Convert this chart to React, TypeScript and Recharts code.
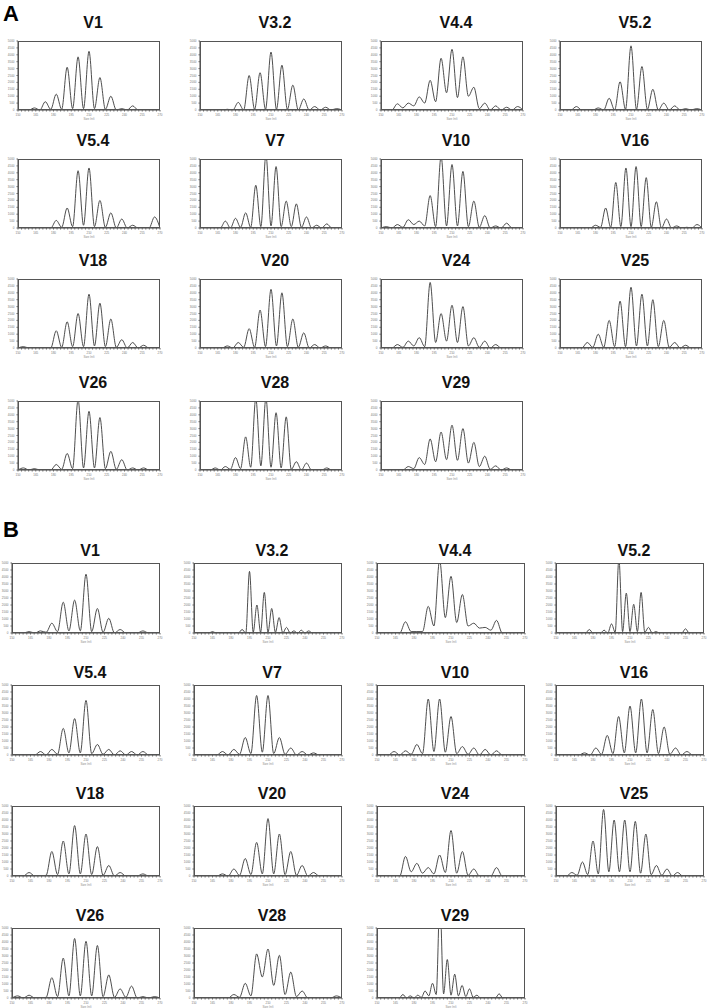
import React from "react";
import { LineChart, Line, XAxis, YAxis } from "recharts";

// Each trace is read off the figure as: trough, peak, trough, peak, ... trough
// (heights in % of the panel's full scale)
const A_V1 = [0, 0, 0, 3, 0, 12, 1, 23, 1, 62, 2, 77, 2, 85, 2, 47, 1, 20, 0, 2, 0, 6, 0, 0, 0, 0, 0];
const A_V3_2 = [0, 0, 0, 0, 0, 1, 0, 11, 0, 50, 1, 54, 1, 84, 1, 65, 1, 36, 0, 16, 0, 5, 0, 4, 0, 2, 0];
const A_V4_4 = [0, 0, 0, 9, 3, 10, 6, 19, 10, 43, 12, 75, 25, 88, 18, 77, 20, 33, 2, 10, 0, 6, 0, 4, 0, 5, 0];
const A_V5_2 = [0, 0, 0, 5, 0, 0, 0, 3, 0, 17, 0, 41, 1, 93, 1, 63, 1, 30, 0, 10, 0, 6, 0, 2, 0, 2, 0];
const A_V5_4 = [0, 0, 0, 0, 0, 0, 0, 11, 1, 29, 2, 83, 4, 87, 2, 40, 1, 22, 0, 13, 0, 4, 0, 0, 0, 16, 0];
const A_V7 = [0, 0, 0, 0, 0, 10, 0, 14, 1, 22, 1, 62, 2, 106, 3, 89, 2, 39, 2, 35, 1, 16, 0, 4, 0, 6, 0, 0, 0];
const A_V10 = [0, 2, 0, 5, 1, 12, 5, 10, 3, 47, 2, 104, 3, 92, 3, 82, 2, 39, 1, 18, 0, 3, 0, 7, 0, 0, 0];
const A_V16 = [0, 0, 0, 0, 0, 0, 0, 4, 1, 29, 1, 66, 2, 87, 2, 89, 2, 73, 1, 38, 0, 13, 0, 3, 0, 1, 0, 5, 0];
const A_V18 = [0, 2, 0, 0, 0, 0, 0, 25, 1, 38, 2, 50, 2, 78, 3, 65, 2, 42, 1, 12, 0, 8, 0, 4, 0, 0, 0];
const A_V20 = [0, 0, 0, 0, 0, 3, 0, 8, 1, 28, 1, 55, 2, 85, 3, 80, 2, 42, 1, 22, 0, 5, 0, 3, 0, 0, 0];
const A_V24 = [0, 0, 0, 5, 1, 10, 3, 15, 2, 95, 8, 50, 10, 62, 8, 60, 3, 15, 1, 10, 0, 5, 0, 0, 0, 0, 0];
const A_V25 = [0, 0, 0, 0, 0, 8, 1, 20, 1, 40, 2, 68, 2, 88, 3, 78, 3, 70, 2, 40, 1, 8, 0, 4, 0, 0, 0];
const A_V26 = [0, 3, 0, 2, 0, 0, 0, 8, 1, 24, 2, 102, 3, 85, 3, 76, 2, 27, 1, 15, 0, 3, 0, 3, 0, 0, 0];
const A_V28 = [0, 0, 0, 3, 0, 5, 1, 18, 2, 48, 4, 104, 6, 104, 4, 83, 3, 77, 1, 12, 0, 10, 0, 0, 0, 3, 0, 0, 0];
const A_V29 = [0, 0, 0, 0, 0, 5, 2, 18, 8, 45, 12, 55, 15, 65, 14, 60, 10, 40, 5, 20, 1, 6, 0, 3, 0, 0, 0];

const B_V1 = [0, 0, 0, 2, 0, 3, 1, 14, 2, 44, 3, 47, 3, 84, 2, 35, 1, 21, 0, 5, 0, 0, 0, 3, 0, 0, 0];
const B_V3_2 = [0, 0, 0, 0, 0, 2, 0, 0, 0, 0, 0, 0, 0, 5, 0, 88, 1, 40, 1, 58, 1, 35, 1, 22, 0, 8, 0, 3, 0, 4, 0, 3, 0, 0, 0, 0, 0, 0, 0, 0, 0];
const B_V4_4 = [0, 0, 0, 0, 0, 16, 2, 2, 2, 38, 10, 104, 22, 81, 15, 55, 10, 14, 7, 8, 4, 18, 0, 0, 0, 0, 0];
const B_V5_2 = [0, 0, 0, 0, 0, 0, 0, 0, 0, 5, 0, 0, 0, 4, 0, 13, 1, 106, 2, 57, 2, 41, 2, 58, 1, 8, 0, 2, 0, 0, 0, 0, 0, 0, 0, 6, 0, 0, 0, 0, 0];
const B_V5_4 = [0, 0, 0, 0, 0, 5, 0, 8, 1, 38, 3, 52, 3, 78, 2, 15, 1, 8, 0, 6, 0, 5, 0, 5, 0, 0, 0];
const B_V7 = [0, 0, 0, 0, 0, 5, 0, 8, 1, 25, 2, 85, 4, 85, 2, 25, 1, 10, 0, 5, 0, 3, 0, 0, 0, 0, 0];
const B_V10 = [0, 0, 0, 5, 0, 6, 1, 15, 2, 80, 5, 80, 4, 55, 2, 12, 1, 10, 0, 8, 0, 6, 0, 0, 0, 0, 0];
const B_V16 = [0, 0, 0, 0, 0, 3, 0, 10, 1, 28, 2, 55, 3, 70, 3, 80, 3, 65, 2, 40, 1, 10, 0, 5, 0, 0, 0];
const B_V18 = [0, 0, 0, 5, 0, 0, 1, 35, 2, 50, 3, 72, 3, 60, 2, 42, 1, 15, 0, 5, 0, 0, 0, 3, 0, 0, 0];
const B_V20 = [0, 0, 0, 0, 0, 3, 0, 10, 1, 25, 2, 48, 3, 82, 3, 60, 2, 35, 1, 15, 0, 5, 0, 0, 0, 0, 0];
const B_V24 = [0, 0, 0, 0, 0, 28, 6, 18, 4, 12, 3, 30, 5, 65, 4, 35, 1, 10, 0, 0, 0, 12, 0, 0, 0, 0, 0];
const B_V25 = [0, 0, 0, 5, 1, 20, 2, 50, 3, 95, 6, 80, 6, 80, 6, 78, 4, 60, 2, 15, 1, 10, 0, 5, 0, 0, 0, 0, 0];
const B_V26 = [0, 3, 0, 4, 0, 0, 1, 29, 2, 57, 3, 85, 3, 81, 3, 75, 2, 33, 1, 13, 1, 17, 0, 2, 0, 2, 0];
const B_V28 = [0, 0, 0, 0, 0, 0, 0, 5, 1, 21, 3, 63, 30, 70, 18, 61, 5, 37, 2, 10, 0, 0, 0, 0, 0, 3, 0];
const B_V29 = [0, 0, 0, 0, 0, 0, 0, 5, 0, 3, 0, 4, 1, 10, 3, 21, 5, 140, 6, 55, 4, 34, 3, 18, 2, 13, 1, 4, 0, 0, 0, 0, 0, 6, 0, 0, 0, 0, 0, 0, 0];

const TITLES = ["V1", "V3.2", "V4.4", "V5.2", "V5.4", "V7", "V10", "V16", "V18", "V20", "V24", "V25", "V26", "V28", "V29"];
const TRACES_A = [A_V1, A_V3_2, A_V4_4, A_V5_2, A_V5_4, A_V7, A_V10, A_V16, A_V18, A_V20, A_V24, A_V25, A_V26, A_V28, A_V29];
const TRACES_B = [B_V1, B_V3_2, B_V4_4, B_V5_2, B_V5_4, B_V7, B_V10, B_V16, B_V18, B_V20, B_V24, B_V25, B_V26, B_V28, B_V29];

const X_TICK_LABELS = ["150", "165", "180", "195", "210", "225", "240", "255", "270"];
const Y_TICK_LABELS = ["0", "500", "1000", "1500", "2000", "2500", "3000", "3500", "4000", "4500", "5000"];

// layout
const COLS_A = [18, 200, 381, 560];
const ROWS_A = [41, 159, 279, 401];
const COLS_B = [12, 194, 377, 556];
const ROWS_B = [563, 685, 806, 928];
const YW = 12;
const XH = 10;
const PAD_T = 3;
const PAD_R = 5;
const MINOR = 5;

interface PanelProps {
  title: string;
  trace: number[];
  left: number;
  top: number;
  w: number;
  h: number;
  gap: number;
}

function Panel({ title, trace, left, top, w, h, gap }: PanelProps) {
  const data = trace.map((v, i) => ({ pos: i / 2, v }));
  const n = (trace.length - 1) / 2;
  const steps = (X_TICK_LABELS.length - 1) * MINOR;
  const xTicks = Array.from({ length: steps + 1 }, (_, k) => (k * n) / steps);
  const yTicks = Y_TICK_LABELS.map((_, k) => k * 10);

  const xLabel = (v: number) => {
    const k = Math.round((v / n) * steps);
    return k % MINOR === 0 ? X_TICK_LABELS[k / MINOR] : "";
  };

  return (
    <>
      <div
        style={{
          position: "absolute",
          left: left + 4,
          top: top - gap - 8,
          width: w,
          textAlign: "center",
          fontSize: 16,
          lineHeight: "16px",
          fontWeight: "bold",
          color: "#111",
        }}
      >
        {title}
      </div>
      <div style={{ position: "absolute", left: left - YW, top: top - PAD_T }}>
        <LineChart
          width={YW + w + PAD_R}
          height={h + XH + PAD_T}
          data={data}
          margin={{ top: PAD_T, right: PAD_R, left: 0, bottom: 0 }}
        >
          <XAxis
            type="number"
            dataKey="pos"
            domain={[0, n]}
            ticks={xTicks}
            interval={0}
            tickFormatter={xLabel}
            tickSize={1.5}
            tick={{ fontSize: 3, fill: "#777" }}
            axisLine={{ stroke: "#444" }}
            tickLine={{ stroke: "#666" }}
            height={XH}
            label={{ value: "Size (nt)", position: "insideBottom", offset: 0, fontSize: 3, fill: "#888" }}
          />
          <YAxis
            type="number"
            domain={[0, 100]}
            allowDataOverflow
            ticks={yTicks}
            interval={0}
            tickFormatter={(v: number) => Y_TICK_LABELS[Math.round(v / 10)]}
            tickSize={1.5}
            tick={{ fontSize: 3, fill: "#777" }}
            axisLine={{ stroke: "#444" }}
            tickLine={{ stroke: "#666" }}
            width={YW}
          />
          <Line
            type="monotone"
            dataKey="v"
            stroke="#3a3a3a"
            strokeWidth={0.9}
            dot={false}
            isAnimationActive={false}
          />
        </LineChart>
        <div
          style={{
            position: "absolute",
            left: YW,
            top: PAD_T,
            width: w,
            height: h,
            border: "1px solid #555",
            boxSizing: "border-box",
            pointerEvents: "none",
          }}
        />
      </div>
    </>
  );
}

function Section({
  label,
  labelTop,
  traces,
  cols,
  rows,
  w,
  h,
  gap,
}: {
  label: string;
  labelTop: number;
  traces: number[][];
  cols: number[];
  rows: number[];
  w: number;
  h: number;
  gap: number;
}) {
  return (
    <>
      <div
        style={{
          position: "absolute",
          left: 3,
          top: labelTop,
          fontSize: 22,
          lineHeight: "22px",
          fontWeight: "bold",
          color: "#000",
        }}
      >
        {label}
      </div>
      {traces.map((trace, i) => (
        <Panel
          key={label + TITLES[i]}
          title={TITLES[i]}
          trace={trace}
          left={cols[i % 4]}
          top={rows[Math.floor(i / 4)]}
          w={w}
          h={h}
          gap={gap}
        />
      ))}
    </>
  );
}

export default function App() {
  return (
    <div
      style={{
        position: "absolute",
        left: 0,
        top: 0,
        width: 713,
        height: 1008,
        background: "#fff",
        fontFamily: "'Liberation Sans', Arial, sans-serif",
        overflow: "hidden",
      }}
    >
      <Section label="A" labelTop={3} traces={TRACES_A} cols={COLS_A} rows={ROWS_A} w={142} h={69} gap={18} />
      <Section label="B" labelTop={519} traces={TRACES_B} cols={COLS_B} rows={ROWS_B} w={148} h={70} gap={12} />
    </div>
  );
}
